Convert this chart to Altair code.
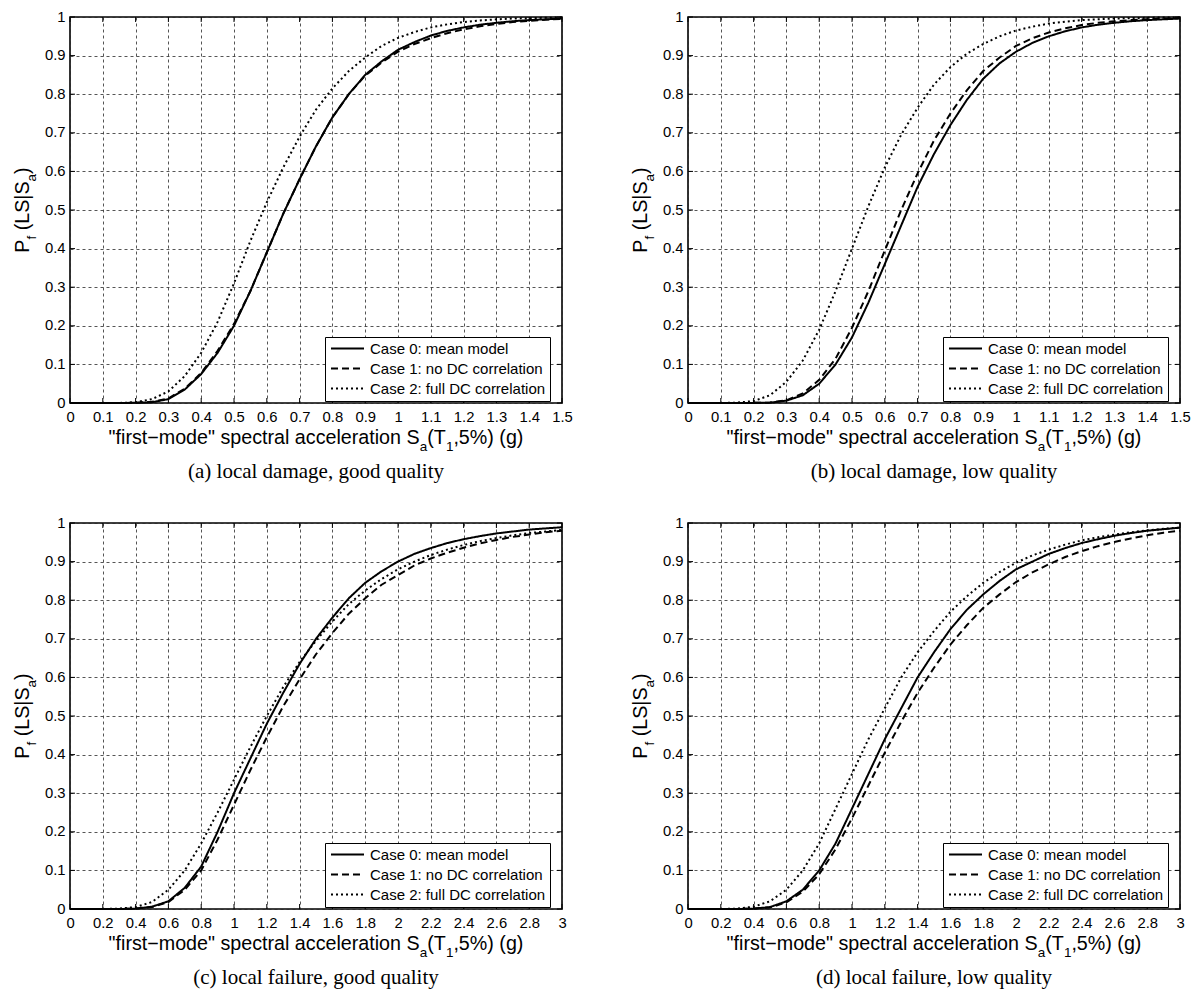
import altair as alt
import pandas as pd

# ---------------- data ----------------
SA_TOP = [0.00, 0.05, 0.10, 0.15, 0.20, 0.25, 0.30, 0.35, 0.40, 0.45, 0.50, 0.55, 0.60, 0.65, 0.70, 0.75,
          0.80, 0.85, 0.90, 0.95, 1.00, 1.05, 1.10, 1.15, 1.20, 1.25, 1.30, 1.35, 1.40, 1.45, 1.50]
SA_BOT = [0.0, 0.1, 0.2, 0.3, 0.4, 0.5, 0.6, 0.7, 0.8, 0.9, 1.0, 1.1, 1.2, 1.3, 1.4, 1.5,
          1.6, 1.7, 1.8, 1.9, 2.0, 2.1, 2.2, 2.3, 2.4, 2.5, 2.6, 2.7, 2.8, 2.9, 3.0]

# (a) local damage, good quality
A_CASE0 = [0, 0, 0, 0, 0.0005, 0.002, 0.01, 0.035, 0.075, 0.13, 0.2, 0.29, 0.39, 0.49, 0.58, 0.665,
           0.74, 0.80, 0.85, 0.885, 0.915, 0.935, 0.952, 0.964, 0.973, 0.98, 0.985, 0.989, 0.992, 0.994, 0.996]
A_CASE1 = [0, 0, 0, 0, 0.0005, 0.003, 0.012, 0.037, 0.078, 0.135, 0.205, 0.29, 0.39, 0.49, 0.58, 0.665,
           0.74, 0.80, 0.848, 0.882, 0.91, 0.93, 0.945, 0.958, 0.968, 0.976, 0.982, 0.987, 0.99, 0.993, 0.995]
A_CASE2 = [0, 0, 0, 0, 0.002, 0.01, 0.03, 0.07, 0.13, 0.21, 0.31, 0.42, 0.52, 0.61, 0.69, 0.76,
           0.815, 0.86, 0.895, 0.925, 0.946, 0.961, 0.973, 0.981, 0.987, 0.991, 0.994, 0.996, 0.997, 0.998, 0.999]
# (b) local damage, low quality
B_CASE0 = [0, 0, 0, 0, 0.0003, 0.001, 0.006, 0.02, 0.05, 0.1, 0.17, 0.26, 0.36, 0.46, 0.56, 0.645,
           0.72, 0.785, 0.84, 0.88, 0.91, 0.933, 0.95, 0.963, 0.973, 0.98, 0.985, 0.989, 0.992, 0.994, 0.996]
B_CASE1 = [0, 0, 0, 0, 0.0004, 0.001, 0.007, 0.025, 0.06, 0.115, 0.195, 0.29, 0.395, 0.5, 0.595, 0.68,
           0.75, 0.81, 0.86, 0.895, 0.925, 0.945, 0.96, 0.971, 0.979, 0.985, 0.989, 0.992, 0.994, 0.996, 0.997]
B_CASE2 = [0, 0, 0, 0.001, 0.005, 0.02, 0.055, 0.11, 0.19, 0.29, 0.40, 0.51, 0.61, 0.695, 0.765, 0.825,
           0.87, 0.905, 0.93, 0.95, 0.965, 0.975, 0.983, 0.988, 0.992, 0.994, 0.996, 0.997, 0.998, 0.999, 0.999]
# (c) local failure, good quality
C_CASE0 = [0, 0, 0, 0, 0.001, 0.006, 0.02, 0.055, 0.11, 0.2, 0.3, 0.39, 0.48, 0.56, 0.635, 0.70,
           0.755, 0.805, 0.845, 0.875, 0.90, 0.92, 0.935, 0.948, 0.958, 0.966, 0.973, 0.978, 0.983, 0.986, 0.989]
C_CASE1 = [0, 0, 0, 0, 0.001, 0.005, 0.018, 0.05, 0.1, 0.18, 0.27, 0.36, 0.445, 0.525, 0.595, 0.66,
           0.715, 0.765, 0.805, 0.84, 0.865, 0.89, 0.908, 0.923, 0.936, 0.947, 0.956, 0.964, 0.97, 0.976, 0.98]
C_CASE2 = [0, 0, 0, 0.001, 0.005, 0.018, 0.05, 0.1, 0.17, 0.25, 0.335, 0.42, 0.5, 0.575, 0.64, 0.695,
           0.745, 0.79, 0.825, 0.855, 0.88, 0.9, 0.917, 0.931, 0.943, 0.953, 0.961, 0.968, 0.974, 0.978, 0.982]
# (d) local failure, low quality
D_CASE0 = [0, 0, 0, 0, 0.001, 0.005, 0.02, 0.05, 0.1, 0.17, 0.26, 0.35, 0.44, 0.52, 0.6, 0.665,
           0.725, 0.775, 0.815, 0.85, 0.88, 0.9, 0.92, 0.935, 0.948, 0.958, 0.967, 0.974, 0.98, 0.984, 0.988]
D_CASE1 = [0, 0, 0, 0, 0.001, 0.004, 0.017, 0.045, 0.09, 0.155, 0.235, 0.32, 0.405, 0.485, 0.56, 0.625,
           0.685, 0.735, 0.78, 0.815, 0.847, 0.872, 0.893, 0.912, 0.927, 0.94, 0.951, 0.96, 0.968, 0.975, 0.98]
D_CASE2 = [0, 0, 0, 0.001, 0.006, 0.02, 0.05, 0.1, 0.17, 0.26, 0.35, 0.44, 0.52, 0.6, 0.665, 0.72,
           0.77, 0.81, 0.845, 0.873, 0.897, 0.916, 0.931, 0.944, 0.955, 0.963, 0.97, 0.976, 0.981, 0.985, 0.988]

CASES = ["Case 0: mean model", "Case 1: no DC correlation", "Case 2: full DC correlation"]
X_TICKS_TOP = [0, 0.1, 0.2, 0.3, 0.4, 0.5, 0.6, 0.7, 0.8, 0.9, 1, 1.1, 1.2, 1.3, 1.4, 1.5]
X_TICKS_BOT = [0, 0.2, 0.4, 0.6, 0.8, 1, 1.2, 1.4, 1.6, 1.8, 2, 2.2, 2.4, 2.6, 2.8, 3]
Y_TICKS = [0, 0.1, 0.2, 0.3, 0.4, 0.5, 0.6, 0.7, 0.8, 0.9, 1]
CAPTIONS = ["(a) local damage, good quality", "(b) local damage, low quality",
            "(c) local failure, good quality", "(d) local failure, low quality"]

# ---------------- layout ----------------
W, H = 492, 386
SANS = "Liberation Sans"
SERIF = "Liberation Serif"
F_TITLE = 19.7
F_SUB = 13.5
F_TICK = 14.8
ONE = pd.DataFrame({"d": [0]})


def txt(s, x, y, size, angle=0, font=SANS, align="left"):
    return alt.Chart(ONE).mark_text(
        text=s, align=align, baseline="alphabetic", fontSize=size, font=font,
        angle=angle, color="black"
    ).encode(x=alt.value(x), y=alt.value(y))


def aw(s, size):
    # Arial / Liberation Sans advance widths (em units)
    w = {'"': .355, 'f': .278, 'i': .222, 'r': .333, 's': .5, 't': .278, '−': .584, 'm': .833,
         'o': .556, 'd': .556, 'e': .556, ' ': .278, 'p': .556, 'c': .5, 'a': .556, 'l': .222,
         'n': .556, 'S': .667, '(': .333, ')': .333, 'T': .611, '1': .556, ',': .278, '5': .556,
         '%': .889, 'g': .556, 'P': .667, 'L': .556, '|': .26}
    return sum(w.get(ch, .556) for ch in s) * size


def make_axis(values, pad):
    return alt.Axis(values=values, format="~g", title=None, labelPadding=pad,
                    labelFlush=False, labelOverlap=False, labelFont=SANS,
                    labelFontSize=F_TICK, labelColor="black", ticks=False, domain=False,
                    grid=True, gridColor="#2a2a2a", gridDash=[3, 3], gridWidth=0.8,
                    gridOpacity=1)


def panel(xs, c0, c1, c2, xmax, xticks, caption):
    rows = []
    for name, ys in zip(CASES, (c0, c1, c2)):
        for x, y in zip(xs, ys):
            rows.append({"sa": x, "pf": y, "case": name})
    df = pd.DataFrame(rows)
    xscale = alt.Scale(domain=[0, xmax], nice=False, zero=False)
    yscale = alt.Scale(domain=[0, 1], nice=False)
    xaxis = make_axis(xticks, 6)
    yaxis = make_axis(Y_TICKS, 5)

    lines = alt.Chart(df).mark_line(strokeWidth=2, color="black").encode(
        x=alt.X("sa:Q", scale=xscale, axis=xaxis),
        y=alt.Y("pf:Q", scale=yscale, axis=yaxis),
        strokeDash=alt.StrokeDash(
            "case:N",
            scale=alt.Scale(domain=CASES, range=[[1, 0], [7, 4], [2, 3]]),
            legend=alt.Legend(title=None, orient="none", legendX=255, legendY=320,
                              fillColor="white", strokeColor="black", padding=4,
                              rowPadding=4, labelFont=SANS, labelFontSize=15,
                              labelColor="black", symbolType="M-1,0H5", symbolSize=121,
                              symbolStrokeWidth=2, symbolStrokeColor="black",
                              labelOffset=26, cornerRadius=0, labelLimit=400),
        ),
    )

    xt = pd.DataFrame({"t": xticks})
    yt = pd.DataFrame({"t": Y_TICKS})
    tick_b = alt.Chart(xt).mark_rule(color="black", strokeWidth=1).encode(
        x=alt.X("t:Q", scale=xscale, axis=xaxis), y=alt.value(H), y2=alt.value(H - 5))
    tick_t = alt.Chart(xt).mark_rule(color="black", strokeWidth=1).encode(
        x=alt.X("t:Q", scale=xscale, axis=xaxis), y=alt.value(0), y2=alt.value(5))
    tick_l = alt.Chart(yt).mark_rule(color="black", strokeWidth=1).encode(
        y=alt.Y("t:Q", scale=yscale, axis=yaxis), x=alt.value(0), x2=alt.value(5))
    tick_r = alt.Chart(yt).mark_rule(color="black", strokeWidth=1).encode(
        y=alt.Y("t:Q", scale=yscale, axis=yaxis), x=alt.value(W), x2=alt.value(W - 5))

    # x-axis title with subscripts
    parts = [('"first−mode" spectral acceleration S', False), ("a", True), ("(T", False),
             ("1", True), (",5%) (g)", False)]
    total = sum(aw(s, F_SUB if sub else F_TITLE) for s, sub in parts)
    x0 = W / 2 - total / 2
    base = H + 41
    xt_marks = []
    for s, sub in parts:
        size = F_SUB if sub else F_TITLE
        xt_marks.append(txt(s, x0, base + (7 if sub else 0), size))
        x0 += aw(s, size)

    # y-axis title with subscripts (rotated); the gap stands for the space
    yparts = [("P", False, 0), ("f", True, 0), ("(LS|S", False, aw(" ", F_TITLE)),
              ("a", True, 0), (")", False, 0)]
    ytotal = sum(aw(s, F_SUB if sub else F_TITLE) + g for s, sub, g in yparts)
    y0 = H / 2 + ytotal / 2
    bx = -41
    yt_marks = []
    for s, sub, gap in yparts:
        size = F_SUB if sub else F_TITLE
        y0 -= gap
        yt_marks.append(txt(s, bx + (7 if sub else 0), y0, size, angle=270))
        y0 -= aw(s, size)

    cap = txt(caption, W / 2, H + 75, 21, font=SERIF, align="center")

    return alt.layer(lines, tick_b, tick_t, tick_l, tick_r, *xt_marks, *yt_marks, cap).properties(
        width=W, height=H)


pa = panel(SA_TOP, A_CASE0, A_CASE1, A_CASE2, 1.5, X_TICKS_TOP, CAPTIONS[0])
pb = panel(SA_TOP, B_CASE0, B_CASE1, B_CASE2, 1.5, X_TICKS_TOP, CAPTIONS[1])
pc = panel(SA_BOT, C_CASE0, C_CASE1, C_CASE2, 3.0, X_TICKS_BOT, CAPTIONS[2])
pd_ = panel(SA_BOT, D_CASE0, D_CASE1, D_CASE2, 3.0, X_TICKS_BOT, CAPTIONS[3])

chart = alt.concat(
    pa, pb, pc, pd_, columns=2, spacing={"row": 120, "column": 126}, bounds="flush"
).resolve_scale(
    x="independent", y="independent", strokeDash="independent"
).resolve_legend(
    strokeDash="independent"
).configure_view(
    stroke="black", strokeWidth=1.6
).properties(
    background="white",
    padding={"left": 4, "top": 0, "right": 0, "bottom": 0}
)

chart.save("out.html", embed_options={"renderer": "svg", "actions": False})
